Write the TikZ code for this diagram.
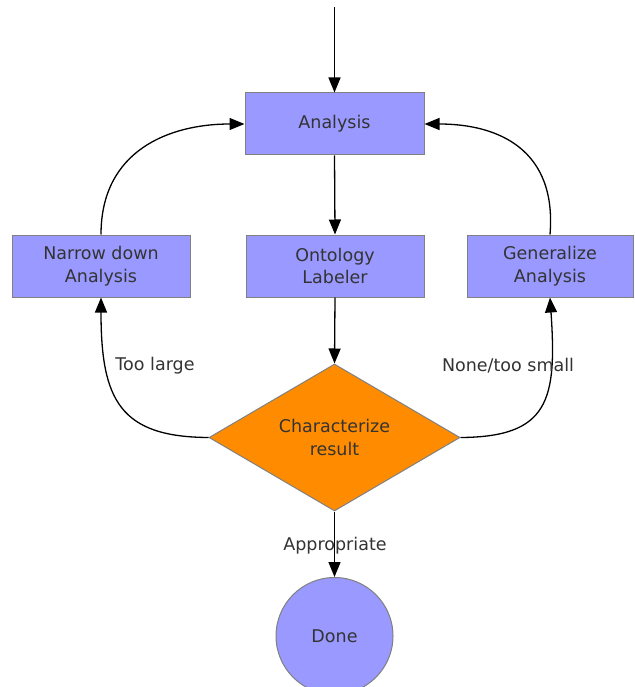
\documentclass[tikz,border=0pt]{standalone}
\usepackage{fontspec}
\setmainfont{DejaVu Sans}
\usetikzlibrary{shapes.geometric,arrows.meta}
\definecolor{boxblue}{HTML}{9999FF}
\definecolor{dorange}{HTML}{FF8C00}
\definecolor{edgegray}{HTML}{808080}
\definecolor{txt}{HTML}{333333}
\begin{document}
\begin{tikzpicture}[x=1pt,y=1pt,
  every node/.style={font=\fontsize{17.5}{22.5}\selectfont, text=txt, align=center},
  proc/.style={draw=edgegray, fill=boxblue, line width=1pt, minimum height=62pt, inner sep=0pt},
  decis/.style={diamond, draw=edgegray, fill=dorange, line width=1pt, minimum width=251pt, minimum height=147pt, inner sep=0pt, aspect=1.7},
  term/.style={circle, draw=edgegray, fill=boxblue, line width=1pt, minimum size=117pt, inner sep=0pt},
  conn/.style={draw=black, line width=1.3pt, -{Triangle[length=15pt,width=12pt]}},
  lbl/.style={inner sep=1pt}]
\useasboundingbox (0,0) rectangle (634,-687);
\coordinate (start) at (334.5,-7);
\node[proc, minimum width=179pt] (A) at (334.5,-124) {Analysis};
\node[proc, minimum width=178pt] (N) at (101,-266) {Narrow down\\Analysis};
\node[proc, minimum width=178pt] (O) at (335,-266) {Ontology\\Labeler};
\node[proc, minimum width=166pt] (G) at (550,-266) {Generalize\\Analysis};
\node[decis] (C) at (334.5,-437.5) {Characterize\\result};
\node[term] (D) at (334.5,-636) {Done};

\draw[conn] (start) -- (A.north);
\draw[conn] (A.south) -- (O.north);
\draw[conn] (O.south) -- (C.north);
\draw[conn] (N.north) .. controls (101,-150) and (170,-124) .. (A.west);
\draw[conn] (G.north) .. controls (557,-150) and (499,-124) .. (A.east);
\draw[conn] (C.west) .. controls (120,-437) and (101,-400) .. (N.south);
\draw[conn] (C.east) .. controls (549,-437) and (557,-400) .. (G.south);
\draw[conn] (C.south) -- (D.north);
\node[lbl] (l1) at (155,-366) {Too large};
\node[lbl] (l2) at (508,-366) {None/too small};
\node[lbl] (l3) at (335,-546) {Appropriate};
\end{tikzpicture}
\end{document}
